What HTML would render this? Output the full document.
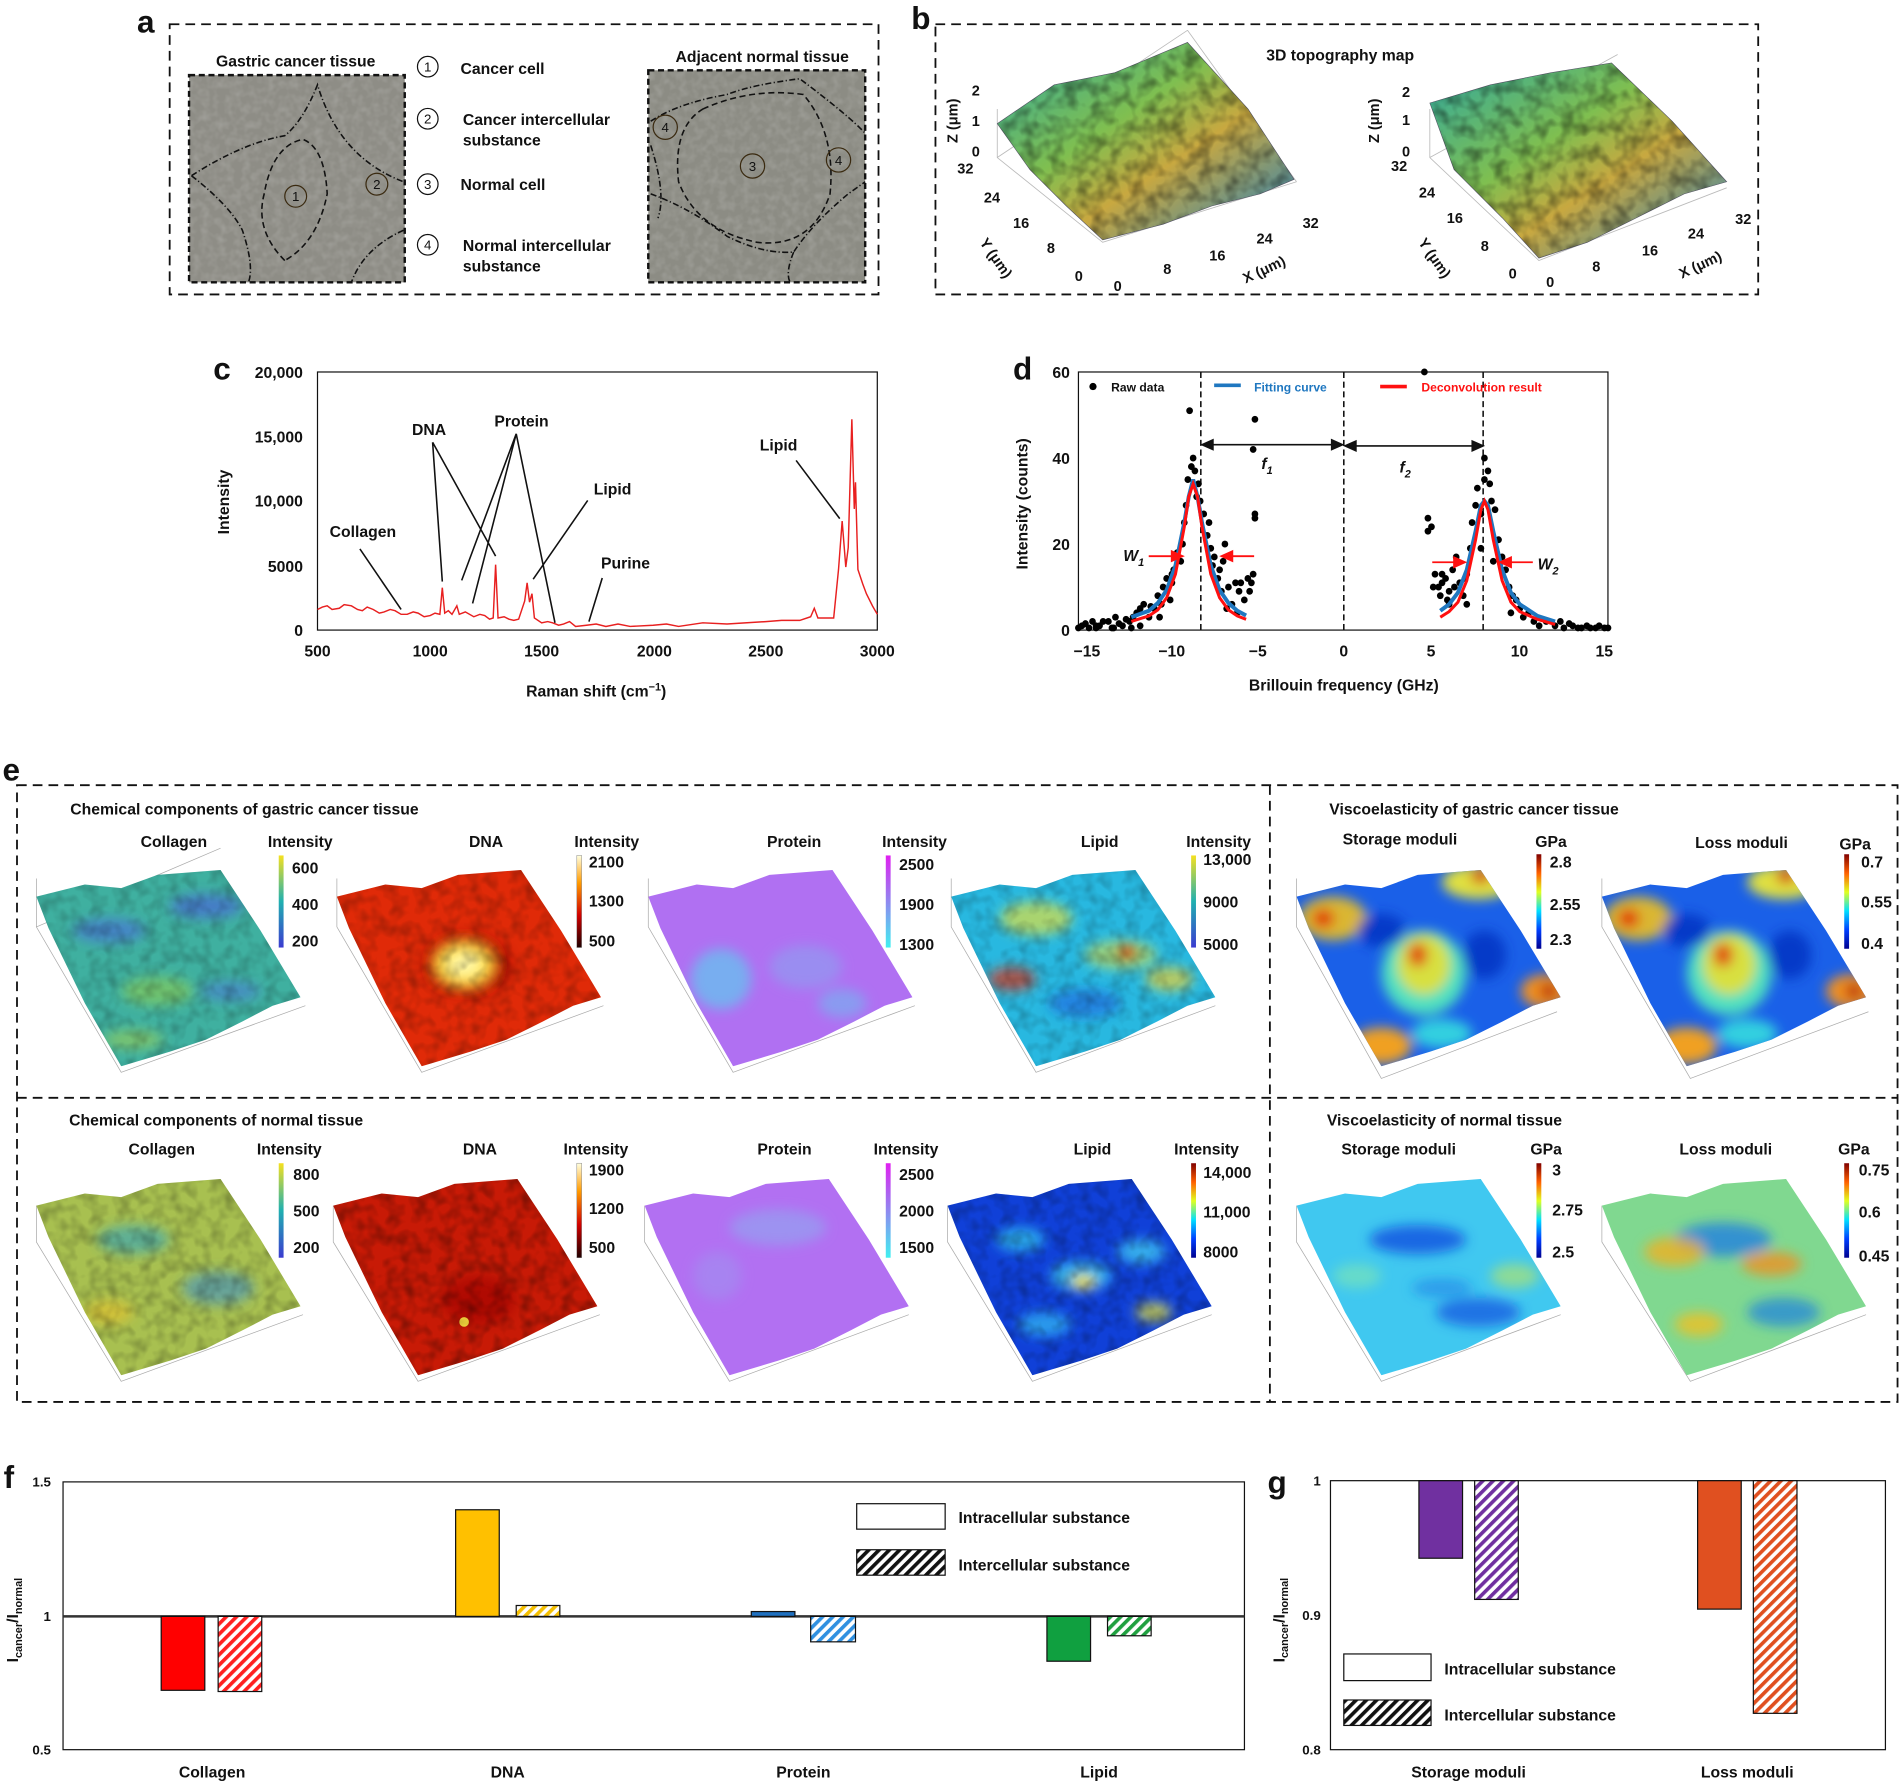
<!DOCTYPE html>
<html><head><meta charset="utf-8"><style>
html,body{margin:0;padding:0;background:#fff}
svg{display:block}
text{font-family:"Liberation Sans",Arial,sans-serif;font-weight:bold;fill:#111}
</style></head><body>
<svg width="1900" height="1783" viewBox="0 0 1568 1471.5" xmlns="http://www.w3.org/2000/svg">
<defs>
<clipPath id="sc" clipPathUnits="userSpaceOnUse"><polygon points="0,22 40,12 70,15 100,4 152,0 185,50 218,105 195,112 170,125 140,140 110,150 70,162 40,110 10,48"/></clipPath>
<linearGradient id="cbpar" x1="0" y1="1" x2="0" y2="0"><stop offset="0" stop-color="#3b3bd0"/><stop offset=".5" stop-color="#20b0b0"/><stop offset="1" stop-color="#f5e020"/></linearGradient>
<linearGradient id="cbhot" x1="0" y1="1" x2="0" y2="0"><stop offset="0" stop-color="#200000"/><stop offset=".35" stop-color="#d00000"/><stop offset=".7" stop-color="#ff9a00"/><stop offset="1" stop-color="#ffffe0"/></linearGradient>
<linearGradient id="cbcool" x1="0" y1="1" x2="0" y2="0"><stop offset="0" stop-color="#40f0f0"/><stop offset="1" stop-color="#e020f0"/></linearGradient>
<linearGradient id="cbjet" x1="0" y1="1" x2="0" y2="0"><stop offset="0" stop-color="#000090"/><stop offset=".2" stop-color="#0040ff"/><stop offset=".4" stop-color="#00e0ff"/><stop offset=".6" stop-color="#e0ff20"/><stop offset=".8" stop-color="#ff6000"/><stop offset="1" stop-color="#800000"/></linearGradient>
<linearGradient id="topo" x1="0" y1="0" x2="1" y2="1"><stop offset="0" stop-color="#2fa8a0"/><stop offset=".4" stop-color="#7fbf50"/><stop offset=".6" stop-color="#c8a840"/><stop offset="1" stop-color="#1e7fc0"/></linearGradient>
<pattern id="hr" width="6" height="6" patternUnits="userSpaceOnUse" patternTransform="rotate(45)"><rect width="6" height="6" fill="#fff"/><rect width="3" height="6" fill="#ff2020"/></pattern>
<pattern id="hy" width="6" height="6" patternUnits="userSpaceOnUse" patternTransform="rotate(45)"><rect width="6" height="6" fill="#fff"/><rect width="3" height="6" fill="#f5c000"/></pattern>
<pattern id="hb" width="6" height="6" patternUnits="userSpaceOnUse" patternTransform="rotate(45)"><rect width="6" height="6" fill="#fff"/><rect width="3" height="6" fill="#3090e0"/></pattern>
<pattern id="hg" width="6" height="6" patternUnits="userSpaceOnUse" patternTransform="rotate(45)"><rect width="6" height="6" fill="#fff"/><rect width="3" height="6" fill="#20a040"/></pattern>
<pattern id="hp" width="6" height="6" patternUnits="userSpaceOnUse" patternTransform="rotate(45)"><rect width="6" height="6" fill="#fff"/><rect width="3" height="6" fill="#7030a0"/></pattern>
<pattern id="ho" width="6" height="6" patternUnits="userSpaceOnUse" patternTransform="rotate(45)"><rect width="6" height="6" fill="#fff"/><rect width="3" height="6" fill="#e05020"/></pattern>
<pattern id="hk" width="6" height="6" patternUnits="userSpaceOnUse" patternTransform="rotate(45)"><rect width="6" height="6" fill="#fff"/><rect width="3" height="6" fill="#111"/></pattern>
<filter id="tex" x="0" y="0" width="1" height="1"><feTurbulence type="fractalNoise" baseFrequency="0.09" numOctaves="2" seed="3"/><feColorMatrix values="0 0 0 0 0  0 0 0 0 0  0 0 0 0 0  0 0 0 0.9 -0.35"/><feComposite in2="SourceGraphic" operator="in"/></filter>
<filter id="tex2" x="0" y="0" width="1" height="1"><feTurbulence type="fractalNoise" baseFrequency="0.15" numOctaves="2" seed="7"/><feColorMatrix values="0 0 0 0 1  0 0 0 0 1  0 0 0 0 1  0 0 0 0.8 -0.3"/><feComposite in2="SourceGraphic" operator="in"/></filter>
<filter id="bl" x="-20%" y="-20%" width="140%" height="140%"><feGaussianBlur stdDeviation="5"/></filter>
</defs>

<!-- ===== a ===== -->
<text x="113" y="27" font-size="26">a</text>
<rect x="140" y="20" width="585" height="223" fill="none" stroke="#111" stroke-width="1.5" stroke-dasharray="8,5"/>
<text x="244" y="55" font-size="13" text-anchor="middle">Gastric cancer tissue</text>
<text x="629" y="51" font-size="13" text-anchor="middle">Adjacent normal tissue</text>
<rect x="156" y="62" width="178" height="171" fill="#8e8d86"/>
<rect x="156" y="62" width="178" height="171" fill="#fff" filter="url(#tex2)" opacity=".35"/>
<rect x="156" y="62" width="178" height="171" fill="none" stroke="#111" stroke-width="2" stroke-dasharray="5,3"/>
<rect x="535" y="58" width="179" height="175" fill="#8c8c84"/>
<rect x="535" y="58" width="179" height="175" fill="#fff" filter="url(#tex2)" opacity=".35"/>
<rect x="535" y="58" width="179" height="175" fill="none" stroke="#111" stroke-width="2" stroke-dasharray="5,3"/>
<g fill="none" stroke="#111" stroke-width="1.3" stroke-dasharray="5,2,1,2">
<path d="M158,145 Q200,118 235,112 Q250,100 262,70 Q280,130 333,150"/>
<path d="M158,145 Q190,170 200,190 Q210,220 205,233"/>
<path d="M333,190 Q300,205 290,233"/>
<path d="M537,100 Q560,85 600,78 Q620,70 660,65 Q700,95 714,110"/>
<path d="M537,160 Q570,172 600,195 Q630,210 655,208 Q670,185 700,160 L714,150"/>
<path d="M537,120 Q550,160 543,180"/>
<path d="M655,208 Q648,225 652,233"/>
</g>
<path d="M235,215 Q210,190 218,160 Q225,120 250,115 Q268,122 270,160 Q262,200 235,215 Z" fill="none" stroke="#111" stroke-width="1.3" stroke-dasharray="5,3"/>
<path d="M580,90 Q620,72 663,78 Q690,110 685,160 Q670,205 625,200 Q575,190 560,150 Q555,105 580,90 Z" fill="none" stroke="#111" stroke-width="1.3" stroke-dasharray="5,3"/>
<g fill="none" stroke="#3a2a10" stroke-width="1"><circle cx="244" cy="162" r="9"/><circle cx="311" cy="152" r="9"/><circle cx="621" cy="137" r="10"/><circle cx="549" cy="105" r="10"/><circle cx="692" cy="132" r="10"/></g>
<g font-size="11" text-anchor="middle"><text x="244" y="166" style="font-weight:normal">1</text><text x="311" y="156" style="font-weight:normal">2</text><text x="621" y="141" style="font-weight:normal">3</text><text x="549" y="109" style="font-weight:normal">4</text><text x="692" y="136" style="font-weight:normal">4</text></g>
<g fill="none" stroke="#111" stroke-width="1"><circle cx="353" cy="55" r="8.5"/><circle cx="353" cy="98" r="8.5"/><circle cx="353" cy="152" r="8.5"/><circle cx="353" cy="202" r="8.5"/></g>
<g font-size="11" text-anchor="middle"><text x="353" y="59" style="font-weight:normal">1</text><text x="353" y="102" style="font-weight:normal">2</text><text x="353" y="156" style="font-weight:normal">3</text><text x="353" y="206" style="font-weight:normal">4</text></g>
<g font-size="13"><text x="380" y="61">Cancer cell</text><text x="382" y="103">Cancer intercellular</text><text x="382" y="120">substance</text><text x="380" y="157">Normal cell</text><text x="382" y="207">Normal intercellular</text><text x="382" y="224">substance</text></g>

<!-- ===== b ===== -->
<text x="752" y="24" font-size="26">b</text>
<rect x="772" y="20" width="679" height="223" fill="none" stroke="#111" stroke-width="1.5" stroke-dasharray="8,5"/>
<text x="1106" y="50" font-size="13" text-anchor="middle">3D topography map</text>
<g stroke="#bbb" stroke-width=".7" fill="none">
<path d="M823,90 L823,130 L910,200 L1070,150 M823,130 L980,25 M980,25 L1070,150"/>
<path d="M1180,90 L1180,130 L1270,215 L1425,155 M1180,130 L1335,45"/>
</g>
<polygon points="823,102 870,70 920,60 980,35 1030,90 1068,148 1040,160 1000,170 960,185 910,198 880,170 850,140" fill="url(#topo)" stroke="#556" stroke-width=".5"/>
<polygon points="1180,85 1230,70 1280,60 1330,52 1380,100 1425,150 1390,160 1350,180 1310,200 1270,213 1240,180 1200,140" fill="url(#topo)" stroke="#556" stroke-width=".5"/>
<polygon points="823,102 870,70 920,60 980,35 1030,90 1068,148 1040,160 1000,170 960,185 910,198 880,170 850,140" fill="#333" filter="url(#tex)"/>
<polygon points="1180,85 1230,70 1280,60 1330,52 1380,100 1425,150 1390,160 1350,180 1310,200 1270,213 1240,180 1200,140" fill="#333" filter="url(#tex)"/>
<g font-size="12">
<text x="802" y="79">2</text><text x="802" y="104">1</text><text x="802" y="129">0</text><text x="790" y="143">32</text><text x="812" y="167">24</text><text x="836" y="188">16</text><text x="864" y="209">8</text><text x="887" y="232">0</text>
<text x="919" y="240">0</text><text x="960" y="226">8</text><text x="998" y="215">16</text><text x="1037" y="201">24</text><text x="1075" y="188">32</text>
<text x="1157" y="80">2</text><text x="1157" y="103">1</text><text x="1157" y="129">0</text><text x="1148" y="141">32</text><text x="1171" y="163">24</text><text x="1194" y="184">16</text><text x="1222" y="207">8</text><text x="1245" y="230">0</text>
<text x="1276" y="237">0</text><text x="1314" y="224">8</text><text x="1355" y="211">16</text><text x="1393" y="197">24</text><text x="1432" y="185">32</text>
</g>
<text font-size="12" transform="translate(790,118) rotate(-90)">Z (μm)</text>
<text font-size="12" transform="translate(1138,118) rotate(-90)">Z (μm)</text>
<text font-size="12" transform="translate(808,200) rotate(55)">Y (μm)</text>
<text font-size="12" transform="translate(1170,200) rotate(55)">Y (μm)</text>
<text font-size="12" transform="translate(1028,234) rotate(-25)">X (μm)</text>
<text font-size="12" transform="translate(1388,230) rotate(-25)">X (μm)</text>

<!-- ===== c ===== -->
<text x="176" y="313" font-size="26">c</text>
<rect x="262" y="307" width="462" height="213" fill="none" stroke="#111" stroke-width="1"/>
<g font-size="13" text-anchor="end"><text x="250" y="312">20,000</text><text x="250" y="365">15,000</text><text x="250" y="418">10,000</text><text x="250" y="472">5000</text><text x="250" y="525">0</text></g>
<g font-size="13" text-anchor="middle"><text x="262" y="542">500</text><text x="355" y="542">1000</text><text x="447" y="542">1500</text><text x="540" y="542">2000</text><text x="632" y="542">2500</text><text x="724" y="542">3000</text></g>
<text x="492" y="575" font-size="13" text-anchor="middle">Raman shift (cm<tspan font-size="9" dy="-5">−1</tspan><tspan dy="5">)</tspan></text>
<text font-size="13" transform="translate(189,441) rotate(-90)">Intensity</text>
<path d="M262,503 L266,501 L270,500 L274,503 L280,502 L284,499 L290,500 L295,503 L299,504 L303,501 L308,503 L313,506 L317,505 L322,503 L326,504 L331,507 L336,507 L341,505 L345,506 L350,509 L355,508 L359,506 L363,507 L365,485 L367,506 L370,504 L373,507 L377,500 L379,507 L384,505 L391,509 L396,507 L400,508 L404,511 L407,510 L409,466 L411,510 L416,509 L420,511 L424,512 L428,511 L433,496 L435,481 L437,497 L439,490 L441,510 L447,514 L452,513 L456,514 L461,516 L465,515 L470,513 L475,517 L484,516 L492,515 L500,517 L510,515 L520,517 L539,516 L550,515 L560,517 L580,514 L600,515 L632,513 L645,512 L660,512 L669,509 L672,502 L675,510 L688,510 L692,470 L695,430 L698,468 L700,452 L703,346 L705,420 L706,398 L708,470 L712,482 L715,490 L720,500 L724,507" fill="none" stroke="#e82020" stroke-width="1.2"/>
<g font-size="13"><text x="340" y="359">DNA</text><text x="408" y="352">Protein</text><text x="627" y="372">Lipid</text><text x="490" y="408">Lipid</text><text x="272" y="443">Collagen</text><text x="496" y="469">Purine</text></g>
<g stroke="#111" stroke-width="1.3" fill="none">
<path d="M357,365 L365,480 M357,365 L409,459 M426,358 L390,498 M426,358 L381,479 M426,358 L458,514 M485,413 L440,478 M297,453 L331,503 M497,477 L486,513 M657,380 L693,428"/>
</g>

<!-- ===== d ===== -->
<text x="836" y="313" font-size="26">d</text>
<rect x="890" y="307" width="437" height="213" fill="none" stroke="#111" stroke-width="1"/>
<g font-size="13" text-anchor="end"><text x="883" y="312">60</text><text x="883" y="383">40</text><text x="883" y="454">20</text><text x="883" y="525">0</text></g>
<g font-size="13" text-anchor="middle"><text x="897" y="542">−15</text><text x="967" y="542">−10</text><text x="1038" y="542">−5</text><text x="1109" y="542">0</text><text x="1181" y="542">5</text><text x="1254" y="542">10</text><text x="1324" y="542">15</text></g>
<text x="1109" y="570" font-size="13" text-anchor="middle">Brillouin frequency (GHz)</text>
<text font-size="13" transform="translate(848,470) rotate(-90)">Intensity (counts)</text>
<g stroke="#111" stroke-width="1.3" stroke-dasharray="5,3"><line x1="991" y1="307" x2="991" y2="520"/><line x1="1109" y1="307" x2="1109" y2="520"/><line x1="1224" y1="307" x2="1224" y2="520"/></g>
<g transform="translate(1108.5,520) scale(14.57,-3.55)" fill="#000">
<ellipse cx="-15" cy="0.5" rx=".19" ry=".8"/><ellipse cx="-14.8" cy="1" rx=".19" ry=".8"/><ellipse cx="-14.6" cy="1.5" rx=".19" ry=".8"/><ellipse cx="-14.4" cy="0.5" rx=".19" ry=".8"/><ellipse cx="-14.2" cy="2" rx=".19" ry=".8"/><ellipse cx="-14" cy="1" rx=".19" ry=".8"/><ellipse cx="-13.8" cy="1" rx=".19" ry=".8"/><ellipse cx="-13.6" cy="2" rx=".19" ry=".8"/><ellipse cx="-13.3" cy="2" rx=".19" ry=".8"/><ellipse cx="-13.1" cy="0.5" rx=".19" ry=".8"/><ellipse cx="-12.9" cy="3" rx=".19" ry=".8"/><ellipse cx="-12.7" cy="1.5" rx=".19" ry=".8"/><ellipse cx="-12.5" cy="1" rx=".19" ry=".8"/><ellipse cx="-12.3" cy="2.5" rx=".19" ry=".8"/><ellipse cx="-12.1" cy="2" rx=".19" ry=".8"/><ellipse cx="-11.9" cy="3" rx=".19" ry=".8"/><ellipse cx="-11.7" cy="4" rx=".19" ry=".8"/><ellipse cx="-11.5" cy="5" rx=".19" ry=".8"/><ellipse cx="-11.3" cy="6" rx=".19" ry=".8"/><ellipse cx="-11" cy="3" rx=".19" ry=".8"/><ellipse cx="-10.9" cy="5.5" rx=".19" ry=".8"/><ellipse cx="-10.7" cy="5" rx=".19" ry=".8"/><ellipse cx="-10.5" cy="8" rx=".19" ry=".8"/><ellipse cx="-10.3" cy="6" rx=".19" ry=".8"/><ellipse cx="-10.2" cy="10" rx=".19" ry=".8"/><ellipse cx="-10" cy="12" rx=".19" ry=".8"/><ellipse cx="-9.8" cy="7" rx=".19" ry=".8"/><ellipse cx="-9.7" cy="13" rx=".19" ry=".8"/><ellipse cx="-9.6" cy="14" rx=".19" ry=".8"/><ellipse cx="-9.4" cy="18" rx=".19" ry=".8"/><ellipse cx="-9.2" cy="16" rx=".19" ry=".8"/><ellipse cx="-9.1" cy="20" rx=".19" ry=".8"/><ellipse cx="-9" cy="25" rx=".19" ry=".8"/><ellipse cx="-8.9" cy="29" rx=".19" ry=".8"/><ellipse cx="-8.8" cy="35" rx=".19" ry=".8"/><ellipse cx="-8.7" cy="51" rx=".19" ry=".8"/><ellipse cx="-8.5" cy="40" rx=".19" ry=".8"/><ellipse cx="-8.4" cy="37" rx=".19" ry=".8"/><ellipse cx="-8.2" cy="34" rx=".19" ry=".8"/><ellipse cx="-8.1" cy="30" rx=".19" ry=".8"/><ellipse cx="-7.9" cy="27" rx=".19" ry=".8"/><ellipse cx="-7.7" cy="22" rx=".19" ry=".8"/><ellipse cx="-7.6" cy="25" rx=".19" ry=".8"/><ellipse cx="-7.5" cy="19" rx=".19" ry=".8"/><ellipse cx="-7.3" cy="17" rx=".19" ry=".8"/><ellipse cx="-7.1" cy="12" rx=".19" ry=".8"/><ellipse cx="-6.9" cy="9" rx=".19" ry=".8"/><ellipse cx="-6.7" cy="20" rx=".19" ry=".8"/><ellipse cx="-6.8" cy="16" rx=".19" ry=".8"/><ellipse cx="-6.5" cy="10" rx=".19" ry=".8"/><ellipse cx="-6.3" cy="6" rx=".19" ry=".8"/><ellipse cx="-6.1" cy="11" rx=".19" ry=".8"/><ellipse cx="-5.9" cy="9" rx=".19" ry=".8"/><ellipse cx="-5.8" cy="11" rx=".19" ry=".8"/><ellipse cx="-5.6" cy="7" rx=".19" ry=".8"/><ellipse cx="-5.4" cy="12" rx=".19" ry=".8"/><ellipse cx="-5.3" cy="9" rx=".19" ry=".8"/><ellipse cx="-5" cy="49" rx=".19" ry=".8"/><ellipse cx="-5.1" cy="42" rx=".19" ry=".8"/><ellipse cx="-5" cy="27" rx=".19" ry=".8"/><ellipse cx="-5" cy="26" rx=".19" ry=".8"/><ellipse cx="-5.2" cy="11" rx=".19" ry=".8"/><ellipse cx="-5.1" cy="13" rx=".19" ry=".8"/><ellipse cx="-6.6" cy="5" rx=".19" ry=".8"/><ellipse cx="-7" cy="14" rx=".19" ry=".8"/><ellipse cx="-9.7" cy="11" rx=".19" ry=".8"/><ellipse cx="-10.4" cy="3" rx=".19" ry=".8"/><ellipse cx="-12" cy="0.5" rx=".19" ry=".8"/><ellipse cx="-13" cy="0.5" rx=".19" ry=".8"/><ellipse cx="-14" cy="0.5" rx=".19" ry=".8"/><ellipse cx="-11.5" cy="1" rx=".19" ry=".8"/><ellipse cx="-8.6" cy="38" rx=".19" ry=".8"/><ellipse cx="-8.3" cy="31" rx=".19" ry=".8"/><ellipse cx="-7.4" cy="15" rx=".19" ry=".8"/><ellipse cx="-6" cy="4" rx=".19" ry=".8"/>
<ellipse cx="4.6" cy="60" rx=".19" ry=".8"/><ellipse cx="4.8" cy="26" rx=".19" ry=".8"/><ellipse cx="4.8" cy="23" rx=".19" ry=".8"/><ellipse cx="5" cy="24" rx=".19" ry=".8"/><ellipse cx="5.2" cy="13" rx=".19" ry=".8"/><ellipse cx="5.1" cy="10" rx=".19" ry=".8"/><ellipse cx="5.4" cy="10" rx=".19" ry=".8"/><ellipse cx="5.5" cy="8" rx=".19" ry=".8"/><ellipse cx="5.6" cy="13" rx=".19" ry=".8"/><ellipse cx="5.8" cy="12" rx=".19" ry=".8"/><ellipse cx="5.9" cy="7" rx=".19" ry=".8"/><ellipse cx="6" cy="9" rx=".19" ry=".8"/><ellipse cx="6.2" cy="14" rx=".19" ry=".8"/><ellipse cx="6.3" cy="10" rx=".19" ry=".8"/><ellipse cx="6.4" cy="17" rx=".19" ry=".8"/><ellipse cx="6.6" cy="11" rx=".19" ry=".8"/><ellipse cx="6.8" cy="8" rx=".19" ry=".8"/><ellipse cx="6.9" cy="12" rx=".19" ry=".8"/><ellipse cx="7" cy="13" rx=".19" ry=".8"/><ellipse cx="7.2" cy="19" rx=".19" ry=".8"/><ellipse cx="7.3" cy="25" rx=".19" ry=".8"/><ellipse cx="7.5" cy="29" rx=".19" ry=".8"/><ellipse cx="7.6" cy="33" rx=".19" ry=".8"/><ellipse cx="7.8" cy="27" rx=".19" ry=".8"/><ellipse cx="8" cy="40" rx=".19" ry=".8"/><ellipse cx="8" cy="35" rx=".19" ry=".8"/><ellipse cx="8.2" cy="37" rx=".19" ry=".8"/><ellipse cx="8.3" cy="34" rx=".19" ry=".8"/><ellipse cx="8.4" cy="30" rx=".19" ry=".8"/><ellipse cx="8.6" cy="28" rx=".19" ry=".8"/><ellipse cx="8.8" cy="21" rx=".19" ry=".8"/><ellipse cx="9" cy="17" rx=".19" ry=".8"/><ellipse cx="9.2" cy="14" rx=".19" ry=".8"/><ellipse cx="9.4" cy="10" rx=".19" ry=".8"/><ellipse cx="9.6" cy="8" rx=".19" ry=".8"/><ellipse cx="9.8" cy="7" rx=".19" ry=".8"/><ellipse cx="10" cy="5" rx=".19" ry=".8"/><ellipse cx="10.2" cy="3" rx=".19" ry=".8"/><ellipse cx="10.5" cy="4" rx=".19" ry=".8"/><ellipse cx="10.8" cy="2" rx=".19" ry=".8"/><ellipse cx="11.1" cy="1" rx=".19" ry=".8"/><ellipse cx="11.5" cy="2" rx=".19" ry=".8"/><ellipse cx="12" cy="1" rx=".19" ry=".8"/><ellipse cx="12.3" cy="2" rx=".19" ry=".8"/><ellipse cx="12.5" cy="0.5" rx=".19" ry=".8"/><ellipse cx="12.8" cy="1.5" rx=".19" ry=".8"/><ellipse cx="13" cy="1" rx=".19" ry=".8"/><ellipse cx="13.3" cy="0.5" rx=".19" ry=".8"/><ellipse cx="13.5" cy="0.5" rx=".19" ry=".8"/><ellipse cx="13.8" cy="1" rx=".19" ry=".8"/><ellipse cx="14" cy="0.5" rx=".19" ry=".8"/><ellipse cx="14.3" cy="0.5" rx=".19" ry=".8"/><ellipse cx="14.5" cy="1" rx=".19" ry=".8"/><ellipse cx="14.8" cy="0.5" rx=".19" ry=".8"/><ellipse cx="15" cy="0.5" rx=".19" ry=".8"/><ellipse cx="7" cy="6" rx=".19" ry=".8"/><ellipse cx="6" cy="6" rx=".19" ry=".8"/><ellipse cx="8.5" cy="16" rx=".19" ry=".8"/><ellipse cx="9.5" cy="4" rx=".19" ry=".8"/><ellipse cx="7.8" cy="19" rx=".19" ry=".8"/><ellipse cx="5.6" cy="11" rx=".19" ry=".8"/>
<path d="M-12,3 L-11,4.5 L-10.5,6.3 L-10,9.3 L-9.5,15 L-9,25 L-8.75,31 L-8.5,35 L-8.25,31 L-8,25 L-7.5,15 L-7,9.3 L-6.5,6.3 L-6,4.5 L-5.5,3.4" fill="none" stroke="#1f77c0" stroke-width="4" vector-effect="non-scaling-stroke"/>
<path d="M-12,2 L-11,3.3 L-10.5,4.7 L-10,7.5 L-9.5,13 L-9,24 L-8.75,31 L-8.5,34 L-8.25,31 L-8,24 L-7.5,13 L-7,7.5 L-6.5,4.7 L-6,3.3 L-5.5,2.5" fill="none" stroke="#ff1010" stroke-width="3" vector-effect="non-scaling-stroke"/>
<path d="M5.5,4.5 L6,6 L6.5,8.7 L7,14 L7.5,23 L7.8,29 L8,30 L8.2,29 L8.5,23 L9,14 L9.5,8.7 L10,6 L11,3.3 L12,2" fill="none" stroke="#1f77c0" stroke-width="4" vector-effect="non-scaling-stroke"/>
<path d="M5.5,3 L6,4.3 L6.5,6.5 L7,11.5 L7.5,21 L7.8,28 L8,30 L8.2,28 L8.5,21 L9,11.5 L9.5,6.5 L10,4.3 L11,2.5 L12,1.3" fill="none" stroke="#ff1010" stroke-width="3" vector-effect="non-scaling-stroke"/>
</g>
<circle cx="902" cy="319" r="3"/><text x="917" y="323" font-size="10">Raw data</text>
<line x1="1002" y1="318" x2="1024" y2="318" stroke="#1f77c0" stroke-width="3"/><text x="1035" y="323" font-size="10" style="fill:#1f77c0">Fitting curve</text>
<line x1="1139" y1="319" x2="1161" y2="319" stroke="#ff1010" stroke-width="3"/><text x="1173" y="323" font-size="10" style="fill:#ff1010">Deconvolution result</text>
<g stroke="#111" stroke-width="1.3" fill="#111">
<line x1="998" y1="367" x2="1101" y2="367"/><polygon points="992,367 1001,363 1001,371"/><polygon points="1108,367 1099,363 1099,371"/>
<line x1="1117" y1="368" x2="1217" y2="368"/><polygon points="1110,368 1119,364 1119,372"/><polygon points="1224,368 1215,364 1215,372"/>
</g>
<g stroke="#ff1010" stroke-width="1.5" fill="#ff1010">
<line x1="948" y1="459" x2="970" y2="459"/><polygon points="976,459 967,455 967,463"/>
<line x1="1035" y1="459" x2="1014" y2="459"/><polygon points="1008,459 1017,455 1017,463"/>
<line x1="1182" y1="464" x2="1203" y2="464"/><polygon points="1209,464 1200,460 1200,468"/>
<line x1="1265" y1="464" x2="1244" y2="464"/><polygon points="1238,464 1247,460 1247,468"/>
</g>
<g font-size="13" font-style="italic"><text x="927" y="463">W<tspan font-size="9" dy="4">1</tspan></text><text x="1269" y="470">W<tspan font-size="9" dy="4">2</tspan></text><text x="1041" y="387">f<tspan font-size="9" dy="4">1</tspan></text><text x="1155" y="390">f<tspan font-size="9" dy="4">2</tspan></text></g>

<!-- ===== e ===== -->
<text x="2" y="644" font-size="26">e</text>
<rect x="14" y="648" width="1552" height="509" fill="none" stroke="#111" stroke-width="1.5" stroke-dasharray="8,5"/>
<line x1="14" y1="906" x2="1566" y2="906" stroke="#111" stroke-width="1.5" stroke-dasharray="8,5"/>
<line x1="1048" y1="648" x2="1048" y2="1157" stroke="#111" stroke-width="1.5" stroke-dasharray="8,5"/>
<g font-size="13">
<text x="58" y="672">Chemical components of gastric cancer tissue</text>
<text x="57" y="929">Chemical components of normal tissue</text>
<text x="1097" y="672">Viscoelasticity of gastric cancer tissue</text>
<text x="1095" y="929">Viscoelasticity of normal tissue</text>
<text x="116" y="699">Collagen</text><text x="221" y="699">Intensity</text>
<text x="387" y="699">DNA</text><text x="474" y="699">Intensity</text>
<text x="633" y="699">Protein</text><text x="728" y="699">Intensity</text>
<text x="892" y="699">Lipid</text><text x="979" y="699">Intensity</text>
<text x="1108" y="697">Storage moduli</text><text x="1267" y="699">GPa</text>
<text x="1399" y="700">Loss moduli</text><text x="1518" y="701">GPa</text>
<text x="106" y="953">Collagen</text><text x="212" y="953">Intensity</text>
<text x="382" y="953">DNA</text><text x="465" y="953">Intensity</text>
<text x="625" y="953">Protein</text><text x="721" y="953">Intensity</text>
<text x="886" y="953">Lipid</text><text x="969" y="953">Intensity</text>
<text x="1107" y="953">Storage moduli</text><text x="1263" y="953">GPa</text>
<text x="1386" y="953">Loss moduli</text><text x="1517" y="953">GPa</text>
</g>
<rect x="230" y="706" width="4" height="76" fill="url(#cbpar)"/>
<rect x="476" y="706" width="4" height="76" fill="url(#cbhot)" stroke="#888" stroke-width=".4"/>
<rect x="731" y="706" width="4" height="76" fill="url(#cbcool)"/>
<rect x="983" y="706" width="4" height="76" fill="url(#cbpar)"/>
<rect x="1268" y="705" width="4" height="78" fill="url(#cbjet)"/>
<rect x="1522" y="705" width="4" height="78" fill="url(#cbjet)"/>
<rect x="230" y="960" width="4" height="78" fill="url(#cbpar)"/>
<rect x="476" y="960" width="4" height="78" fill="url(#cbhot)" stroke="#888" stroke-width=".4"/>
<rect x="731" y="960" width="4" height="78" fill="url(#cbcool)"/>
<rect x="983" y="960" width="4" height="78" fill="url(#cbjet)"/>
<rect x="1268" y="960" width="4" height="78" fill="url(#cbjet)"/>
<rect x="1522" y="960" width="4" height="78" fill="url(#cbjet)"/>
<g font-size="13">
<text x="241" y="721">600</text><text x="241" y="751">400</text><text x="241" y="781">200</text>
<text x="486" y="716">2100</text><text x="486" y="748">1300</text><text x="486" y="781">500</text>
<text x="742" y="718">2500</text><text x="742" y="751">1900</text><text x="742" y="784">1300</text>
<text x="993" y="714">13,000</text><text x="993" y="749">9000</text><text x="993" y="784">5000</text>
<text x="1279" y="716">2.8</text><text x="1279" y="751">2.55</text><text x="1279" y="780">2.3</text>
<text x="1536" y="716">0.7</text><text x="1536" y="749">0.55</text><text x="1536" y="783">0.4</text>
<text x="242" y="974">800</text><text x="242" y="1004">500</text><text x="242" y="1034">200</text>
<text x="486" y="970">1900</text><text x="486" y="1002">1200</text><text x="486" y="1034">500</text>
<text x="742" y="974">2500</text><text x="742" y="1004">2000</text><text x="742" y="1034">1500</text>
<text x="993" y="972">14,000</text><text x="993" y="1005">11,000</text><text x="993" y="1038">8000</text>
<text x="1281" y="970">3</text><text x="1281" y="1003">2.75</text><text x="1281" y="1038">2.5</text>
<text x="1534" y="970">0.75</text><text x="1534" y="1005">0.6</text><text x="1534" y="1041">0.45</text>
</g>
<g stroke="#aaa" stroke-width=".6" fill="none">
<path d="M30,725 L30,765 L100,885 L252,830 M30,765 L182,700"/>
<path d="M278,725 L278,765 L348,885 L498,830"/>
<path d="M535,725 L535,765 L605,885 L755,830"/>
<path d="M785,725 L785,765 L855,885 L1003,830"/>
<path d="M1070,725 L1070,765 L1140,890 L1285,835"/>
<path d="M1322,725 L1322,765 L1395,890 L1542,835"/>
<path d="M30,995 L30,1025 L100,1140 L250,1085"/>
<path d="M275,995 L275,1025 L345,1140 L495,1085"/>
<path d="M532,995 L532,1025 L602,1140 L750,1085"/>
<path d="M782,995 L782,1025 L852,1140 L1000,1085"/>
<path d="M1070,995 L1070,1025 L1140,1140 L1288,1085"/>
<path d="M1322,995 L1322,1025 L1395,1140 L1540,1085"/>
</g>
<!-- surfaces top row -->
<g transform="translate(30,718)"><g clip-path="url(#sc)">
<rect x="0" y="0" width="220" height="165" fill="#3fb0a0"/>
<g filter="url(#bl)"><ellipse cx="60" cy="50" rx="30" ry="10" fill="#4a6be0" opacity=".6"/><ellipse cx="140" cy="30" rx="30" ry="10" fill="#4a5be0" opacity=".6"/><ellipse cx="100" cy="100" rx="30" ry="12" fill="#8fcf50" opacity=".6"/><ellipse cx="160" cy="100" rx="25" ry="8" fill="#4a6be0" opacity=".5"/><ellipse cx="80" cy="140" rx="25" ry="8" fill="#9fcf50" opacity=".6"/></g>
<rect width="220" height="165" fill="#333" filter="url(#tex)" opacity=".5"/></g></g>
<g transform="translate(278,718)"><g clip-path="url(#sc)">
<rect width="220" height="165" fill="#e02a08"/>
<g filter="url(#bl)"><ellipse cx="108" cy="78" rx="36" ry="26" fill="#a00000" opacity=".6"/>
<ellipse cx="105" cy="78" rx="24" ry="18" fill="#ffe040"/><ellipse cx="105" cy="78" rx="14" ry="10" fill="#fff6a0"/></g>
<rect width="220" height="165" fill="#300" filter="url(#tex)" opacity=".6"/></g></g>
<g transform="translate(535,718)"><g clip-path="url(#sc)">
<rect width="220" height="165" fill="#b070f2"/>
<g filter="url(#bl)"><ellipse cx="60" cy="90" rx="25" ry="25" fill="#60c8f0" opacity=".7"/><ellipse cx="130" cy="80" rx="30" ry="18" fill="#8ca0f0" opacity=".6"/><ellipse cx="160" cy="110" rx="20" ry="12" fill="#70b8f0" opacity=".6"/></g>
</g></g>
<g transform="translate(785,718)"><g clip-path="url(#sc)">
<rect width="220" height="165" fill="#28b8e0"/>
<g filter="url(#bl)"><ellipse cx="70" cy="40" rx="30" ry="14" fill="#e0e040" opacity=".7"/><ellipse cx="140" cy="70" rx="30" ry="12" fill="#e0e040" opacity=".6"/><ellipse cx="50" cy="90" rx="20" ry="10" fill="#e03010" opacity=".7"/><ellipse cx="145" cy="68" rx="8" ry="6" fill="#c00"/><ellipse cx="110" cy="110" rx="30" ry="12" fill="#2060e0" opacity=".6"/><ellipse cx="180" cy="90" rx="20" ry="10" fill="#f0d030" opacity=".7"/></g>
<rect width="220" height="165" fill="#003" filter="url(#tex)" opacity=".5"/></g></g>
<g transform="translate(1070,718)"><g clip-path="url(#sc)">
<rect width="220" height="170" fill="#1a60e8"/>
<g filter="url(#bl)"><ellipse cx="30" cy="40" rx="28" ry="18" fill="#f0c020" opacity=".9"/><ellipse cx="22" cy="40" rx="9" ry="8" fill="#e03010"/><ellipse cx="150" cy="10" rx="30" ry="14" fill="#e0e040"/><ellipse cx="152" cy="5" rx="8" ry="6" fill="#d02010"/>
<ellipse cx="105" cy="85" rx="35" ry="35" fill="#50e0c0"/><ellipse cx="105" cy="78" rx="22" ry="25" fill="#d8e040"/><ellipse cx="100" cy="70" rx="8" ry="10" fill="#e04010"/>
<ellipse cx="70" cy="50" rx="20" ry="14" fill="#0030c0" opacity=".8"/><ellipse cx="155" cy="70" rx="18" ry="20" fill="#0030c0" opacity=".8"/>
<ellipse cx="205" cy="100" rx="20" ry="14" fill="#f09020"/><ellipse cx="208" cy="100" rx="7" ry="6" fill="#b00000"/>
<ellipse cx="70" cy="145" rx="25" ry="15" fill="#f0a020"/><ellipse cx="120" cy="135" rx="25" ry="12" fill="#30d0e0"/></g></g></g>
<g transform="translate(1322,718)"><g clip-path="url(#sc)">
<rect width="220" height="170" fill="#1a60e8"/>
<g filter="url(#bl)"><ellipse cx="30" cy="40" rx="28" ry="18" fill="#f0c020" opacity=".9"/><ellipse cx="22" cy="40" rx="9" ry="8" fill="#e03010"/><ellipse cx="150" cy="10" rx="30" ry="14" fill="#e0e040"/><ellipse cx="152" cy="5" rx="8" ry="6" fill="#d02010"/>
<ellipse cx="105" cy="85" rx="35" ry="35" fill="#50e0c0"/><ellipse cx="105" cy="78" rx="22" ry="25" fill="#d8e040"/><ellipse cx="100" cy="70" rx="8" ry="10" fill="#e04010"/>
<ellipse cx="70" cy="50" rx="20" ry="14" fill="#0030c0" opacity=".8"/><ellipse cx="155" cy="70" rx="18" ry="20" fill="#0030c0" opacity=".8"/>
<ellipse cx="205" cy="100" rx="20" ry="14" fill="#f09020"/><ellipse cx="208" cy="100" rx="7" ry="6" fill="#b00000"/>
<ellipse cx="70" cy="145" rx="25" ry="15" fill="#f0a020"/><ellipse cx="120" cy="135" rx="25" ry="12" fill="#30d0e0"/></g></g></g>
<!-- surfaces bottom row -->
<g transform="translate(30,973)"><g clip-path="url(#sc)">
<rect width="220" height="165" fill="#a8c050"/>
<g filter="url(#bl)"><ellipse cx="80" cy="50" rx="30" ry="12" fill="#40a8b0" opacity=".7"/><ellipse cx="150" cy="90" rx="30" ry="14" fill="#3a90c8" opacity=".6"/><ellipse cx="60" cy="110" rx="20" ry="10" fill="#e0c030" opacity=".7"/></g>
<rect width="220" height="165" fill="#024" filter="url(#tex)" opacity=".6"/></g></g>
<g transform="translate(275,973)"><g clip-path="url(#sc)">
<rect width="220" height="165" fill="#c81a06"/>
<g filter="url(#bl)"><ellipse cx="120" cy="100" rx="30" ry="20" fill="#a00000" opacity=".6"/></g><ellipse cx="108" cy="118" rx="4" ry="4" fill="#ffe040"/>
<rect width="220" height="165" fill="#200" filter="url(#tex)" opacity=".8"/></g></g>
<g transform="translate(532,973)"><g clip-path="url(#sc)">
<rect width="220" height="165" fill="#b270f2"/>
<g filter="url(#bl)"><ellipse cx="110" cy="40" rx="40" ry="15" fill="#90a8f0" opacity=".6"/><ellipse cx="60" cy="80" rx="20" ry="20" fill="#a090f0" opacity=".6"/></g>
</g></g>
<g transform="translate(782,973)"><g clip-path="url(#sc)">
<rect width="220" height="165" fill="#1040d8"/>
<g filter="url(#bl)"><ellipse cx="60" cy="50" rx="20" ry="10" fill="#30c0f0" opacity=".8"/><ellipse cx="110" cy="80" rx="25" ry="12" fill="#40d0f0" opacity=".8"/><ellipse cx="112" cy="85" rx="10" ry="6" fill="#f0e030"/><ellipse cx="160" cy="60" rx="20" ry="10" fill="#40c8f0" opacity=".8"/><ellipse cx="80" cy="120" rx="22" ry="10" fill="#30b0f0" opacity=".8"/><ellipse cx="170" cy="110" rx="15" ry="8" fill="#e0e040" opacity=".8"/></g>
<rect width="220" height="165" fill="#002" filter="url(#tex)" opacity=".6"/></g></g>
<g transform="translate(1070,973)"><g clip-path="url(#sc)">
<rect width="220" height="165" fill="#40c8f0"/>
<g filter="url(#bl)"><ellipse cx="100" cy="50" rx="40" ry="12" fill="#1050e0" opacity=".8"/><ellipse cx="150" cy="110" rx="35" ry="12" fill="#1050e0" opacity=".7"/><ellipse cx="50" cy="80" rx="20" ry="10" fill="#70e0c0" opacity=".8"/><ellipse cx="180" cy="80" rx="20" ry="10" fill="#a0e080" opacity=".8"/><ellipse cx="120" cy="90" rx="25" ry="8" fill="#2080e8" opacity=".6"/></g>
</g></g>
<g transform="translate(1322,973)"><g clip-path="url(#sc)">
<rect width="220" height="165" fill="#80d890"/>
<g filter="url(#bl)"><ellipse cx="100" cy="50" rx="40" ry="14" fill="#2080e0" opacity=".8"/><ellipse cx="150" cy="110" rx="30" ry="12" fill="#2080e0" opacity=".7"/><ellipse cx="60" cy="60" rx="25" ry="12" fill="#f0b020" opacity=".8"/><ellipse cx="140" cy="70" rx="25" ry="10" fill="#f09020" opacity=".8"/><ellipse cx="80" cy="120" rx="20" ry="10" fill="#f0c020" opacity=".8"/></g>
</g></g>

<!-- ===== f ===== -->
<text x="3" y="1228" font-size="26">f</text>
<rect x="52" y="1223" width="975" height="221" fill="none" stroke="#111" stroke-width="1"/>
<line x1="52" y1="1334" x2="1027" y2="1334" stroke="#333" stroke-width="2"/>
<g font-size="11" text-anchor="end"><text x="42" y="1227">1.5</text><text x="42" y="1338">1</text><text x="42" y="1448">0.5</text></g>
<text font-size="13" transform="translate(15,1372) rotate(-90)">I<tspan font-size="9" dy="3">cancer</tspan><tspan dy="-3">/I</tspan><tspan font-size="9" dy="3">normal</tspan></text>
<rect x="133" y="1334" width="36" height="61" fill="#ff0000" stroke="#111"/>
<rect x="180" y="1334" width="36" height="62" fill="url(#hr)" stroke="#111"/>
<rect x="376" y="1246" width="36" height="88" fill="#ffc000" stroke="#111"/>
<rect x="426" y="1325" width="36" height="9" fill="url(#hy)" stroke="#111"/>
<rect x="620" y="1330" width="36" height="4" fill="#1f70c0" stroke="#111"/>
<rect x="669" y="1334" width="37" height="21" fill="url(#hb)" stroke="#111"/>
<rect x="864" y="1334" width="36" height="37" fill="#10a040" stroke="#111"/>
<rect x="914" y="1334" width="36" height="16" fill="url(#hg)" stroke="#111"/>
<rect x="707" y="1241" width="73" height="21" fill="#fff" stroke="#111"/>
<rect x="707" y="1279" width="73" height="21" fill="url(#hk)" stroke="#111"/>
<g font-size="13"><text x="791" y="1257">Intracellular substance</text><text x="791" y="1296">Intercellular substance</text></g>
<g font-size="13" text-anchor="middle"><text x="175" y="1467">Collagen</text><text x="419" y="1467">DNA</text><text x="663" y="1467">Protein</text><text x="907" y="1467">Lipid</text></g>

<!-- ===== g ===== -->
<text x="1046" y="1232" font-size="26">g</text>
<rect x="1098" y="1222" width="458" height="222" fill="none" stroke="#111" stroke-width="1"/>
<g font-size="11" text-anchor="end"><text x="1090" y="1226">1</text><text x="1090" y="1337">0.9</text><text x="1090" y="1448">0.8</text></g>
<text font-size="13" transform="translate(1060,1372) rotate(-90)">I<tspan font-size="9" dy="3">cancer</tspan><tspan dy="-3">/I</tspan><tspan font-size="9" dy="3">normal</tspan></text>
<rect x="1171" y="1222" width="36" height="64" fill="#7030a0" stroke="#111"/>
<rect x="1217" y="1222" width="36" height="98" fill="url(#hp)" stroke="#111"/>
<rect x="1401" y="1222" width="36" height="106" fill="#e05020" stroke="#111"/>
<rect x="1447" y="1222" width="36" height="192" fill="url(#ho)" stroke="#111"/>
<rect x="1109" y="1365" width="72" height="22" fill="#fff" stroke="#111"/>
<rect x="1109" y="1403" width="72" height="21" fill="url(#hk)" stroke="#111"/>
<g font-size="13"><text x="1192" y="1382">Intracellular substance</text><text x="1192" y="1420">Intercellular substance</text></g>
<g font-size="13" text-anchor="middle"><text x="1212" y="1467">Storage moduli</text><text x="1442" y="1467">Loss moduli</text></g>
</svg>
</body></html>
